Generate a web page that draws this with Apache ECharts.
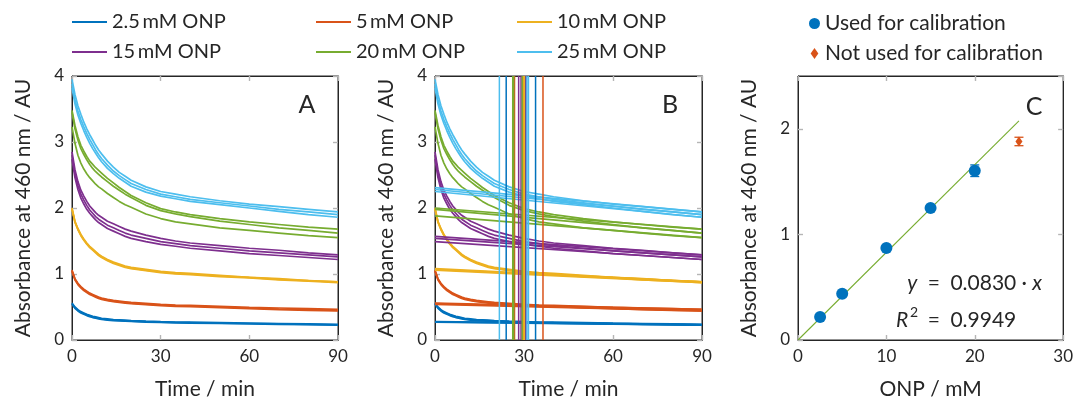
<!DOCTYPE html>
<html><head><meta charset="utf-8">
<script src="https://cdn.jsdelivr.net/npm/echarts@6/dist/echarts.min.js"></script>
<style>html,body{margin:0;padding:0;background:#fff}#c{width:1076px;height:405px}</style>
</head><body><div id="c"></div>
<script>
// ---------- data ----------
const timeMin = [0,1,2,3,4,5,6,7,8,9,10,12,14,16,18,20,25,30,35,40,50,60,70,80,90];
const seriesLabels = ['2.5\u2009mM ONP','5\u2009mM ONP','10\u2009mM ONP','15\u2009mM ONP','20\u2009mM ONP','25\u2009mM ONP'];
const seriesColors = ['#0072BD','#D95319','#EDB120','#7E2F8E','#77AC30','#4DBEEE'];

// absorbance replicates (3 per concentration) at timeMin
const onp2_5 = [
 [0.56,0.50,0.46,0.43,0.41,0.39,0.375,0.36,0.35,0.34,0.33,0.32,0.31,0.305,0.30,0.295,0.285,0.278,0.273,0.27,0.263,0.256,0.25,0.243,0.236],
 [0.55,0.49,0.45,0.42,0.40,0.38,0.365,0.35,0.34,0.33,0.32,0.31,0.302,0.296,0.291,0.287,0.278,0.271,0.266,0.262,0.256,0.25,0.244,0.237,0.23],
 [0.54,0.48,0.44,0.41,0.39,0.37,0.355,0.34,0.33,0.32,0.312,0.302,0.295,0.289,0.284,0.28,0.271,0.265,0.26,0.256,0.25,0.244,0.238,0.231,0.225]];
const onp5 = [
 [1.06,0.93,0.86,0.81,0.77,0.74,0.71,0.69,0.67,0.65,0.635,0.615,0.60,0.59,0.58,0.57,0.555,0.54,0.53,0.525,0.51,0.495,0.485,0.475,0.465],
 [1.05,0.92,0.85,0.80,0.76,0.73,0.70,0.68,0.66,0.64,0.625,0.605,0.59,0.58,0.57,0.56,0.545,0.53,0.52,0.515,0.50,0.485,0.47,0.46,0.45],
 [1.04,0.91,0.84,0.79,0.75,0.72,0.69,0.67,0.65,0.63,0.615,0.595,0.58,0.57,0.56,0.55,0.535,0.52,0.51,0.505,0.49,0.475,0.46,0.45,0.44]];
const onp10 = [
 [2.00,1.80,1.69,1.60,1.53,1.47,1.42,1.38,1.34,1.30,1.27,1.22,1.18,1.15,1.12,1.10,1.07,1.04,1.02,1.01,0.98,0.95,0.93,0.90,0.88],
 [1.99,1.79,1.68,1.59,1.52,1.46,1.41,1.37,1.33,1.29,1.26,1.21,1.17,1.14,1.11,1.09,1.06,1.03,1.01,1.00,0.97,0.95,0.92,0.90,0.88],
 [1.98,1.78,1.67,1.58,1.51,1.45,1.40,1.36,1.32,1.28,1.25,1.20,1.16,1.13,1.10,1.08,1.05,1.02,1.00,0.99,0.96,0.94,0.91,0.89,0.87]];
const onp15 = [
 [2.85,2.58,2.40,2.27,2.18,2.10,2.03,1.98,1.93,1.89,1.86,1.80,1.76,1.72,1.68,1.65,1.59,1.54,1.50,1.47,1.43,1.39,1.36,1.32,1.29],
 [2.80,2.52,2.34,2.21,2.12,2.04,1.97,1.92,1.87,1.83,1.80,1.74,1.70,1.66,1.62,1.59,1.54,1.49,1.46,1.43,1.39,1.35,1.32,1.29,1.26],
 [2.74,2.46,2.28,2.15,2.06,1.98,1.92,1.87,1.82,1.78,1.75,1.69,1.65,1.61,1.57,1.54,1.49,1.45,1.42,1.39,1.35,1.31,1.28,1.25,1.22]];
const onp20 = [
 [3.48,3.25,3.08,2.95,2.86,2.78,2.71,2.66,2.61,2.57,2.53,2.45,2.38,2.31,2.25,2.19,2.08,1.99,1.94,1.90,1.84,1.79,1.75,1.71,1.68],
 [3.45,3.20,3.03,2.90,2.81,2.73,2.66,2.60,2.55,2.51,2.47,2.40,2.33,2.27,2.21,2.16,2.04,1.96,1.91,1.87,1.80,1.75,1.70,1.66,1.62],
 [3.23,2.98,2.80,2.68,2.59,2.52,2.46,2.41,2.36,2.32,2.29,2.22,2.16,2.10,2.05,2.01,1.91,1.84,1.79,1.76,1.70,1.66,1.62,1.58,1.55]];
const onp25 = [
 [3.95,3.72,3.55,3.42,3.30,3.20,3.11,3.03,2.95,2.88,2.82,2.71,2.62,2.54,2.48,2.42,2.32,2.25,2.21,2.17,2.11,2.06,2.02,1.98,1.94],
 [3.88,3.64,3.47,3.34,3.23,3.13,3.04,2.96,2.88,2.81,2.75,2.65,2.56,2.49,2.43,2.37,2.28,2.21,2.17,2.13,2.08,2.03,1.98,1.94,1.90],
 [3.82,3.58,3.41,3.28,3.17,3.07,2.98,2.90,2.83,2.76,2.70,2.60,2.52,2.45,2.39,2.33,2.24,2.18,2.14,2.10,2.05,2.00,1.95,1.90,1.86]];

// panel B: linear fits [value at 0 min, value at 90 min] per replicate
const fitTimes = [0,90];
const fit2_5 = [[0.28,0.235],[0.275,0.23],[0.27,0.225]];
const fit5   = [[0.56,0.465],[0.55,0.45],[0.54,0.44]];
const fit10  = [[1.08,0.88],[1.07,0.88],[1.06,0.87]];
const fit15  = [[1.57,1.29],[1.54,1.26],[1.49,1.22]];
const fit20  = [[2.00,1.68],[1.98,1.62],[1.88,1.55]];
const fit25  = [[2.31,1.94],[2.28,1.90],[2.25,1.86]];

// panel B: vertical markers (min) per replicate
const vt2_5 = [24.0,30.4,33.9];
const vt5   = [26.8,29.8,36.4];
const vt10  = [29.6,30.0,30.2];
const vt15  = [28.2,29.0,30.7];
const vt20  = [26.2,26.5,29.4];
const vt25  = [21.7,31.0,31.5];

// panel C
const calX = [2.5,5,10,15,20];
const calY = [0.218,0.437,0.872,1.249,1.603];
const calErr = [0.012,0.012,0.012,0.015,0.055];
const outX = [25];
const outY = [1.88];
const outErr = [0.04];
const fitLineX = [0,25];
const fitLineY = [0,2.075];

const timeTicks = {min:0,max:90,interval:30};
const absTicks = {min:0,max:4,interval:1};
const onpTicks = {min:0,max:30,interval:10};
const calTicks = {min:0,max:2.5,interval:1};

// ---------- chart ----------
const FONT = 'Lato';
const TXT = '#262626';
const TICK = '#b5b5b5';
const allSets = [onp2_5,onp5,onp10,onp15,onp20,onp25];
const allFits = [fit2_5,fit5,fit10,fit15,fit20,fit25];
const allVt = [vt2_5,vt5,vt10,vt15,vt20,vt25];
const panelTicks = [[timeTicks,absTicks],[timeTicks,absTicks],[onpTicks,calTicks]];

const gridBox = {show:true,borderColor:TXT,borderWidth:1};
const grids = [
  Object.assign({left:72,top:76,width:266,height:267},gridBox),
  Object.assign({left:435,top:76,width:267,height:267},gridBox),
  Object.assign({left:798,top:76,width:267,height:266},gridBox)
];
const xAxes=[], yAxes=[];
function addAxes(g, xt, yt, xname, yname, hideMaxY){
  const tick = {show:true,inside:true,length:5,lineStyle:{color:TICK,width:1.4}};
  const line = {show:true,onZero:false,lineStyle:{color:TXT,width:1}};
  xAxes.push({gridIndex:g,type:'value',min:xt.min,max:xt.max,interval:xt.interval,position:'bottom',
    axisLine:line,axisTick:tick,splitLine:{show:false},
    axisLabel:{color:TXT,fontSize:17,fontFamily:FONT,margin:8},
    name:xname,nameLocation:'middle',nameGap:39,nameTextStyle:{color:TXT,fontSize:21,fontFamily:FONT}});
  xAxes.push({gridIndex:g,type:'value',min:xt.min,max:xt.max,interval:xt.interval,position:'top',
    axisLine:line,axisTick:tick,splitLine:{show:false},axisLabel:{show:false}});
  yAxes.push({gridIndex:g,type:'value',min:yt.min,max:yt.max,interval:yt.interval,position:'left',
    axisLine:line,axisTick:tick,splitLine:{show:false},
    axisLabel:{color:TXT,fontSize:17,fontFamily:FONT,margin:8,showMaxLabel:!hideMaxY},
    name:yname,nameLocation:'middle',nameGap:38,nameTextStyle:{color:TXT,fontSize:21,fontFamily:FONT}});
  yAxes.push({gridIndex:g,type:'value',min:yt.min,max:yt.max,interval:yt.interval,position:'right',
    axisLine:line,axisTick:tick,splitLine:{show:false},axisLabel:{show:false}});
}
addAxes(0,timeTicks,absTicks,'Time / min','Absorbance at 460 nm / AU',false);
addAxes(1,timeTicks,absTicks,'Time / min','Absorbance at 460 nm / AU',false);
addAxes(2,onpTicks,calTicks,'ONP / mM','Absorbance at 460 nm / AU',true);

const series=[];
const base = {type:'line',showSymbol:false,symbol:'none',silent:true,animation:false};

// invisible series on the top/right axes so that they are laid out and drawn
panelTicks.forEach((tt,g)=>{
  series.push(Object.assign({},base,{name:'_frame'+g,xAxisIndex:g*2+1,yAxisIndex:g*2+1,
    data:[[tt[0].min,tt[1].min],[tt[0].max,tt[1].max]],lineStyle:{opacity:0,width:0},itemStyle:{opacity:0}}));
});

for (let p=0;p<2;p++){
  allSets.forEach((set,c)=>{
    set.forEach(rep=>{
      series.push(Object.assign({},base,{name:seriesLabels[c],xAxisIndex:p*2,yAxisIndex:p*2,
        data:timeMin.map((t,i)=>[t,rep[i]]),color:seriesColors[c],
        lineStyle:{color:seriesColors[c],width:1.7},itemStyle:{color:seriesColors[c]}}));
    });
  });
}
allFits.forEach((set,c)=>{
  set.forEach(rep=>{
    series.push(Object.assign({},base,{name:seriesLabels[c],xAxisIndex:2,yAxisIndex:2,
      data:fitTimes.map((t,i)=>[t,rep[i]]),color:seriesColors[c],
      lineStyle:{color:seriesColors[c],width:1.7},itemStyle:{color:seriesColors[c]}}));
  });
});
allVt.forEach((set,c)=>{
  set.forEach(t=>{
    series.push(Object.assign({},base,{name:seriesLabels[c],xAxisIndex:2,yAxisIndex:2,z:5,
      data:[[t,absTicks.min],[t,absTicks.max]],color:seriesColors[c],
      lineStyle:{color:seriesColors[c],width:1.5},itemStyle:{color:seriesColors[c]}}));
  });
});
// panel C
series.push(Object.assign({},base,{name:'fit',xAxisIndex:4,yAxisIndex:4,color:'#77AC30',
  data:fitLineX.map((x,i)=>[x,fitLineY[i]]),lineStyle:{color:'#77AC30',width:1.1},itemStyle:{color:'#77AC30'}}));
function errBar(color){
  return function(params,api){
    const x=api.value(0), lo=api.value(1), hi=api.value(2);
    const a=api.coord([x,lo]), b=api.coord([x,hi]); const w=4.5;
    const st={stroke:color,lineWidth:1.3};
    return {type:'group',children:[
      {type:'line',shape:{x1:a[0],y1:a[1],x2:b[0],y2:b[1]},style:st},
      {type:'line',shape:{x1:a[0]-w,y1:a[1],x2:a[0]+w,y2:a[1]},style:st},
      {type:'line',shape:{x1:b[0]-w,y1:b[1],x2:b[0]+w,y2:b[1]},style:st}]};
  };
}
series.push({type:'custom',xAxisIndex:4,yAxisIndex:4,silent:true,animation:false,
  renderItem:errBar('#0072BD'),encode:{x:0,y:[1,2]},
  data:calX.map((x,i)=>[x,calY[i]-calErr[i],calY[i]+calErr[i]])});
series.push({type:'custom',xAxisIndex:4,yAxisIndex:4,silent:true,animation:false,
  renderItem:errBar('#D95319'),encode:{x:0,y:[1,2]},
  data:outX.map((x,i)=>[x,outY[i]-outErr[i],outY[i]+outErr[i]])});
const DIAMOND='path://M5,0 L8.5,5 L5,10 L1.5,5 Z';
series.push({type:'scatter',name:'Used for calibration',xAxisIndex:4,yAxisIndex:4,silent:true,animation:false,
  symbol:'circle',symbolSize:12,itemStyle:{color:'#0072BD',opacity:1},z:4,
  data:calX.map((x,i)=>[x,calY[i]])});
series.push({type:'scatter',name:'Not used for calibration',xAxisIndex:4,yAxisIndex:4,silent:true,animation:false,
  symbol:DIAMOND,symbolSize:[7,10],itemStyle:{color:'#D95319',opacity:1},z:4,
  data:outX.map((x,i)=>[x,outY[i]])});

function colLegend(left, names){
  return {left:left,top:12,orient:'vertical',padding:0,itemGap:10,icon:'rect',itemWidth:35,itemHeight:2,
    selectedMode:false,data:names,textStyle:{color:TXT,fontSize:20,fontFamily:FONT}};
}
const legends=[
  colLegend(72,[seriesLabels[0],seriesLabels[3]]),
  colLegend(316,[seriesLabels[1],seriesLabels[4]]),
  colLegend(517,[seriesLabels[2],seriesLabels[5]]),
  {left:809,top:13,orient:'vertical',padding:0,itemGap:9,itemWidth:11,itemHeight:11,selectedMode:false,
   data:[{name:'Used for calibration',icon:'circle'},{name:'Not used for calibration',icon:DIAMOND}],
   textStyle:{color:TXT,fontSize:21,fontFamily:FONT}}
];

const graphic=[
  {type:'text',x:307,y:105,style:{text:'A',font:'25px '+FONT,fill:TXT,align:'center',verticalAlign:'middle'}},
  {type:'text',x:670,y:105,style:{text:'B',font:'25px '+FONT,fill:TXT,align:'center',verticalAlign:'middle'}},
  {type:'text',x:1034,y:107,style:{text:'C',font:'25px '+FONT,fill:TXT,align:'center',verticalAlign:'middle'}},
  {type:'text',x:1042,y:283,style:{text:'{i|y}\u2002=\u20020.0830\u2005\u00b7\u2005{i|x}',font:'21px '+FONT,fill:TXT,align:'right',verticalAlign:'middle',
     rich:{i:{fontStyle:'italic',fontSize:21,fontFamily:FONT,fill:TXT}}}},
  {type:'text',x:896,y:320,style:{text:'{i|R}\u2002=\u20020.9949',font:'21px '+FONT,fill:TXT,align:'left',verticalAlign:'middle',
     rich:{i:{fontStyle:'italic',fontSize:21,fontFamily:FONT,fill:TXT,padding:[0,9,0,0]}}}},
  {type:'text',x:910,y:312,style:{text:'2',font:'14px '+FONT,fill:TXT,align:'left',verticalAlign:'middle'}}
];

const chart = echarts.init(document.getElementById('c'),null,{renderer:'canvas'});
chart.setOption({animation:false,textStyle:{fontFamily:FONT},grid:grids,xAxis:xAxes,yAxis:yAxes,
  legend:legends,series:series,graphic:graphic});
</script></body></html>
